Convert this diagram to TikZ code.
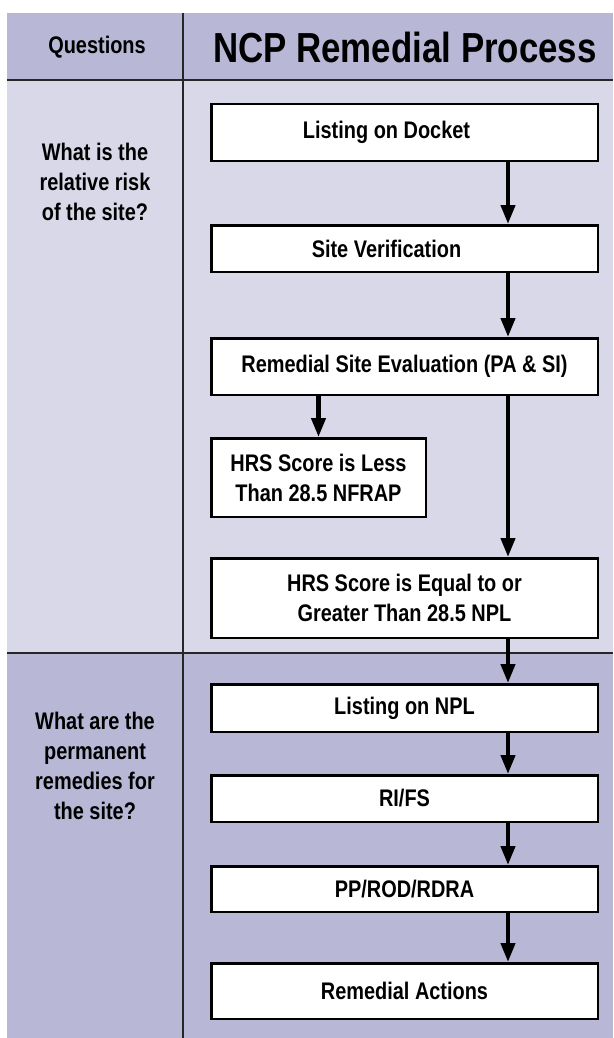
\documentclass[tikz,border=0pt]{standalone}
\usepackage{fontspec}
\setmainfont{Liberation Sans}[FakeStretch=0.83]
\usetikzlibrary{arrows.meta}
\definecolor{hdr}{RGB}{184,184,214}
\definecolor{secA}{RGB}{216,216,232}
\begin{document}
\begin{tikzpicture}[x=1pt,y=-1pt,
  box/.style={draw=black, line width=2.5pt, fill=white, minimum width=386.5pt,
    inner sep=0pt, font=\fontsize{24}{30}\selectfont\bfseries, align=center},
  arr/.style={line width=4.2pt, -{Triangle[length=19pt,width=14pt]}},
  qtext/.style={font=\fontsize{24}{30}\selectfont\bfseries, align=center, inner sep=0pt},
  rulel/.style={line width=1.2pt, draw=black!85}]
\useasboundingbox (0,0) rectangle (613,1038);
% backgrounds
\fill[hdr] (7,13) rectangle (613,80);
\fill[secA] (7,80) rectangle (613,653);
\fill[hdr] (7,653) rectangle (613,1038);
\draw[rulel] (7,80) -- (613,80);
\draw[rulel] (7,653) -- (613,653);
\draw[rulel] (183,13) -- (183,1038);
% header texts
\node[qtext] (qh) at (97,47) {Questions};
\node[font=\fontsize{42}{48}\selectfont\bfseries, inner sep=0pt] (title) at (405,47) {NCP Remedial Process};
% question texts
\node[qtext] (q1) at (95,182) {What is the\\relative risk\\ of the site?};
\node[qtext] (q2) at (95,766) {What are the\\permanent\\remedies for\\ the site?};
% boxes
\node[box, minimum height=56.5pt] (docket) at (404.5,132.5) {Listing on Docket\hspace*{36pt}};
\node[box, minimum height=46.5pt] (sv) at (404.5,248.5) {Site Verification\hspace*{36pt}};
\node[box, minimum height=56.5pt] (rse) at (404.5,366.5) {Remedial Site Evaluation (PA \& SI)};
\node[box, minimum width=214.5pt, minimum height=78.5pt] (less) at (318.5,477.5) {HRS Score is Less\\Than 28.5 NFRAP};
\node[box, minimum height=79.5pt] (equal) at (404.5,598) {HRS Score is Equal to or\\Greater Than 28.5 NPL};
\node[box, minimum height=47.5pt] (npl) at (404.5,708) {Listing on NPL};
\node[box, minimum height=46.5pt] (rifs) at (404.5,798.5) {RI/FS};
\node[box, minimum height=45.5pt] (pp) at (404.5,889) {PP/ROD/RDRA};
\node[box, minimum height=55.5pt] (ra) at (404.5,991) {Remedial Actions};
% arrows
\coordinate (ax) at (508,0);
\draw[arr] (docket.south -| ax) -- (sv.north -| ax);
\draw[arr] (sv.south -| ax) -- (rse.north -| ax);
\draw[arr] (rse.south -| less.north) -- (less.north);
\draw[arr] (rse.south -| ax) -- (equal.north -| ax);
\draw[arr] (equal.south -| ax) -- (npl.north -| ax);
\draw[arr] (npl.south -| ax) -- (rifs.north -| ax);
\draw[arr] (rifs.south -| ax) -- (pp.north -| ax);
\draw[arr] (pp.south -| ax) -- (ra.north -| ax);
\end{tikzpicture}
\end{document}
